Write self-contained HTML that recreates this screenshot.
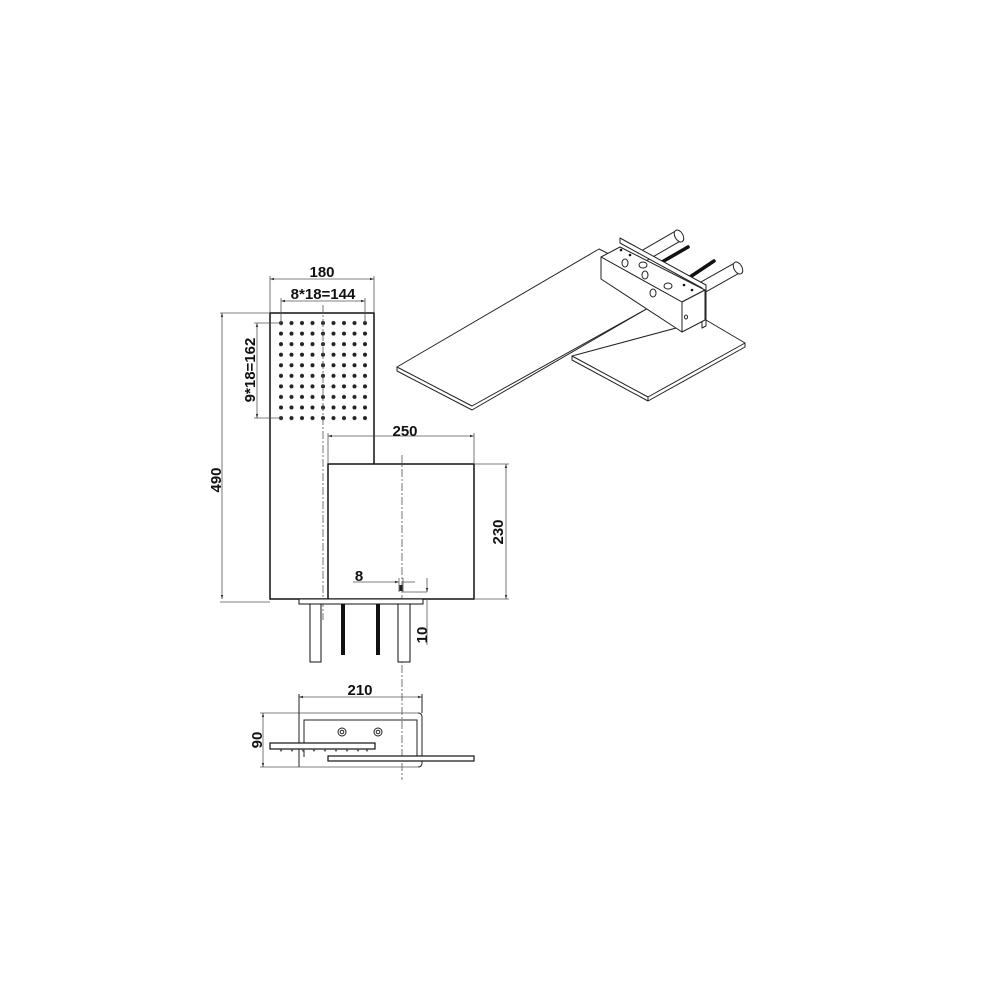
<!DOCTYPE html>
<html><head><meta charset="utf-8"><style>
html,body{margin:0;padding:0;background:#fff;}
svg{display:block;}
text{font-family:"Liberation Sans",sans-serif;font-weight:bold;fill:#111;font-size:15px;}
</style></head><body>
<svg width="1000" height="1000" viewBox="0 0 1000 1000" xmlns="http://www.w3.org/2000/svg">
<defs>
<marker id="a" viewBox="0 0 10 10" refX="10" refY="5" markerWidth="5" markerHeight="5" orient="auto-start-reverse"><path d="M0,2 L10,5 L0,8 z" fill="#333"/></marker>
<pattern id="dots" x="276.5" y="318.5" width="10.5" height="10.56" patternUnits="userSpaceOnUse"><circle cx="4.5" cy="4.5" r="2" fill="#222"/></pattern>
</defs>
<g stroke="#111" fill="#fff" stroke-width="1.5">
<rect x="270" y="313" width="104" height="286"/>
<rect x="328" y="464" width="146" height="135"/>
</g>
<rect x="276.5" y="318.5" width="94" height="105.6" fill="url(#dots)"/>
<g stroke="#555" stroke-width="0.8" fill="none">
<line x1="323" y1="305" x2="323" y2="620" stroke-dasharray="8,2,2,2"/>
<line x1="402" y1="455" x2="402" y2="780" stroke-dasharray="8,2,2,2"/>
<line x1="270" y1="279" x2="374" y2="279" marker-start="url(#a)" marker-end="url(#a)"/>
<line x1="270" y1="276" x2="270" y2="313"/><line x1="374" y1="276" x2="374" y2="313"/>
<line x1="281" y1="301" x2="365" y2="301" marker-start="url(#a)" marker-end="url(#a)"/>
<line x1="281" y1="298" x2="281" y2="323"/><line x1="365" y1="298" x2="365" y2="323"/>
<line x1="257" y1="323" x2="257" y2="418" marker-start="url(#a)" marker-end="url(#a)"/>
<line x1="254" y1="323" x2="281" y2="323"/><line x1="254" y1="418" x2="281" y2="418"/>
<line x1="222" y1="313" x2="222" y2="599" marker-start="url(#a)" marker-end="url(#a)"/>
<line x1="220" y1="313" x2="270" y2="313"/><line x1="220" y1="602" x2="270" y2="602"/>
<line x1="328" y1="436" x2="474" y2="436" marker-start="url(#a)" marker-end="url(#a)"/>
<line x1="328" y1="433" x2="328" y2="464"/><line x1="474" y1="433" x2="474" y2="464"/>
<line x1="506" y1="464" x2="506" y2="599" marker-start="url(#a)" marker-end="url(#a)"/>
<line x1="474" y1="464" x2="509" y2="464"/><line x1="474" y1="599" x2="509" y2="599"/>
<line x1="353" y1="582" x2="399" y2="582" marker-end="url(#a)"/>
<line x1="403" y1="582" x2="415" y2="582"/>
<line x1="399" y1="578" x2="399" y2="592"/><line x1="403" y1="578" x2="403" y2="592"/>
<line x1="403" y1="592" x2="427" y2="592"/>
<line x1="427" y1="578" x2="427" y2="592" marker-end="url(#a)"/>
<line x1="427" y1="599" x2="427" y2="645"/>
</g>
<rect x="399.5" y="585" width="3" height="6" fill="#222"/>
<g stroke="#111" fill="#fff" stroke-width="1">
<rect x="299" y="599" width="124" height="5"/>
<rect x="310" y="604" width="11" height="58"/>
<rect x="398" y="604" width="12" height="58"/>
</g>
<rect x="341" y="604" width="4" height="51" fill="#111"/>
<rect x="376" y="604" width="4" height="51" fill="#111"/>
<!-- bottom view -->
<g stroke="#555" stroke-width="0.8" fill="none">
<line x1="299" y1="697" x2="422" y2="697" marker-start="url(#a)" marker-end="url(#a)"/>
<line x1="263" y1="713" x2="263" y2="767" marker-start="url(#a)" marker-end="url(#a)"/>
<line x1="260" y1="713" x2="418" y2="713"/>
<line x1="260" y1="767" x2="418" y2="767"/>
</g>
<g stroke="#222" stroke-width="1" fill="none">
<path d="M299,694 V767 M418,713 Q422,713 422,717 V763 Q422,767 418,767"/>
<path d="M422,694 V713"/>
<path d="M304,757 V720 H417 V757"/>
<circle cx="342" cy="732" r="4"/><circle cx="342" cy="732" r="1.8"/>
<circle cx="378" cy="732" r="4"/><circle cx="378" cy="732" r="1.8"/>
</g>
<rect x="270" y="743" width="105" height="6" fill="#fff" stroke="#111" stroke-width="1.2"/>
<g fill="#555"><path d="M279,749h4l-2,3z M290,749h4l-2,3z M301,749h4l-2,3z M312,749h4l-2,3z M323,749h4l-2,3z M334,749h4l-2,3z M345,749h4l-2,3z M356,749h4l-2,3z M365,749h4l-2,3z"/></g>
<rect x="328" y="756" width="146" height="5" fill="#fff" stroke="#111" stroke-width="1.2"/>
<!-- iso view -->
<g stroke="#222" stroke-width="1" fill="#fff" stroke-linejoin="round">
<path d="M572,356 L706,320 L745,343 L745,347 L648,401 L572,360 z"/>
<path d="M572,356 L648,397 L745,343 M648,397 L648,401"/>
<path d="M397,367 L599,249 L625,262 L650,307 L472,410 L397,371 z"/>
<path d="M397,367 L472,406 L650,307"/>
</g>
<!-- pipes -->
<g stroke-linecap="butt">
<line x1="640" y1="258" x2="678" y2="236" stroke="#222" stroke-width="12"/>
<line x1="640" y1="258" x2="678" y2="236" stroke="#fff" stroke-width="10"/>
<line x1="698" y1="290" x2="737" y2="268" stroke="#222" stroke-width="12"/>
<line x1="698" y1="290" x2="737" y2="268" stroke="#fff" stroke-width="10"/>
</g>
<g stroke="#222" stroke-width="1" fill="#fff">
<ellipse cx="679" cy="236" rx="4" ry="6.5" transform="rotate(-30 679 236)"/>
<ellipse cx="738" cy="268" rx="4" ry="6.5" transform="rotate(-30 738 268)"/>
</g>
<g stroke="#111" stroke-width="3.5" stroke-linecap="round">
<line x1="662" y1="262" x2="688" y2="247"/>
<line x1="690" y1="277" x2="714" y2="261"/>
</g>
<g stroke="#222" stroke-width="1" fill="#fff" stroke-linejoin="round">
<path d="M620,238 L706,285 L706,326 L702,328 L702,288 L620,243 z"/>
<path d="M601,257 L620,247 L705,290 L682,302 z"/>
<path d="M601,257 L682,302 L682,332 L601,279 z"/>
<path d="M682,302 L705,290 L705,320 L682,332 z"/>
<ellipse cx="625" cy="263" rx="3" ry="4"/>
<ellipse cx="645" cy="275" rx="3" ry="4"/>
<ellipse cx="653" cy="293" rx="3" ry="4"/>
<ellipse cx="643" cy="265" rx="4" ry="3"/>
<ellipse cx="668" cy="286" rx="4" ry="3"/>
<ellipse cx="686" cy="317" rx="1.5" ry="2"/>
</g>
<g fill="#111"><circle cx="621" cy="250" r="1.3"/><circle cx="630" cy="255" r="1.3"/><circle cx="684" cy="285" r="1.3"/><circle cx="692" cy="290" r="1.3"/></g>
<text x="322" y="277" text-anchor="middle">180</text>
<text x="323" y="299" text-anchor="middle">8*18=144</text>
<text x="405" y="436" text-anchor="middle">250</text>
<text x="360" y="695" text-anchor="middle">210</text>
<text x="359" y="581" text-anchor="middle">8</text>
<text transform="translate(255,370) rotate(-90)" text-anchor="middle">9*18=162</text>
<text transform="translate(221,480) rotate(-90)" text-anchor="middle">490</text>
<text transform="translate(503,532) rotate(-90)" text-anchor="middle">230</text>
<text transform="translate(427,635) rotate(-90)" text-anchor="middle">10</text>
<text transform="translate(262,740) rotate(-90)" text-anchor="middle">90</text>
</svg>
</body></html>
